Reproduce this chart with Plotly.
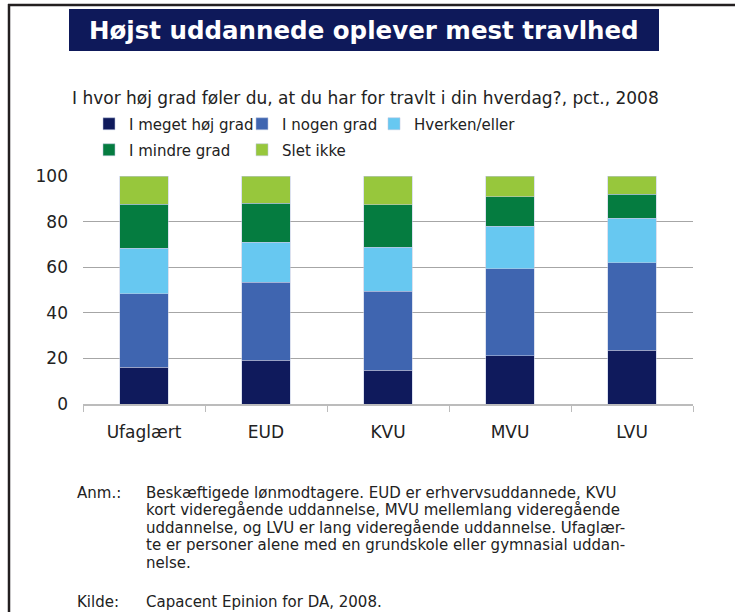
import plotly.graph_objects as go

# --- data (pct., 2008) ---
categories = ['Ufaglært', 'EUD', 'KVU', 'MVU', 'LVU']
series_names = ['I meget høj grad', 'I nogen grad', 'Hverken/eller',
                'I mindre grad', 'Slet ikke']
meget_hoej = [16.2, 19.3, 14.7, 21.1, 23.6]
nogen = [32.1, 34.1, 34.7, 38.2, 38.3]
hverken = [20.1, 17.6, 19.4, 18.7, 19.5]
mindre = [19.3, 17.1, 18.6, 12.9, 10.7]
slet_ikke = [12.3, 11.9, 12.6, 9.1, 7.9]
y_ticks = [0, 20, 40, 60, 80, 100]

colors = ['#0f1a5c', '#3f65b0', '#67c8f1', '#057c40', '#97c73c']
values = [meget_hoej, nogen, hverken, mindre, slet_ikke]

FONT = 'DejaVu Sans'
W, H = 735, 612
L, R, T, B = 83, 693, 176, 404   # plot area in px


def px(x):
    return (x - L) / (R - L)


def py(y):
    return (B - y) / (B - T)


# one legend per entry so the 3 + 2 grid can be placed exactly (px)
legend_ids = ['legend', 'legend2', 'legend3', 'legend4', 'legend5']
legend_pos = [(89, 124), (242, 124), (374, 124), (89, 150), (242, 150)]

fig = go.Figure()
for name, vals, clr, lg in zip(series_names, values, colors, legend_ids):
    fig.add_trace(go.Bar(
        x=categories, y=vals, name=name, showlegend=True,
        marker=dict(color=clr, line=dict(color='rgba(190,200,225,0.9)', width=0.6)),
        legend=lg,
    ))

legends = {}
for lg, (lx, ly) in zip(legend_ids, legend_pos):
    legends[lg] = dict(
        x=px(lx), y=py(ly), xanchor='left', yanchor='middle',
        font=dict(family=FONT, size=15, color='#222'),
        bgcolor='rgba(0,0,0,0)', itemwidth=30,
    )

fig.update_layout(
    barmode='stack', bargap=0.6, showlegend=True,
    width=W, height=H,
    margin=dict(l=L, r=W - R, t=T, b=H - B),
    paper_bgcolor='white', plot_bgcolor='white',
    font=dict(family=FONT, size=16, color='#222'),
    xaxis=dict(
        showline=True, linecolor='#bcbcbc', linewidth=1.5,
        ticks='outside', tickson='boundaries', ticklen=6, tickcolor='#bcbcbc',
        tickfont=dict(family=FONT, size=17, color='#222'),
        showgrid=False, ticklabelstandoff=12,
    ),
    yaxis=dict(
        range=[0, 100], tickvals=y_ticks, showline=False,
        gridcolor='#a6a6a6', gridwidth=1, zeroline=False,
        tickfont=dict(family=FONT, size=17, color='#222'),
        ticklabelstandoff=14,
    ),
    **legends,
)

# title box
fig.add_shape(type='rect', xref='paper', yref='paper',
              x0=px(69), x1=px(659), y0=py(51), y1=py(9),
              fillcolor='#0e195a', line=dict(width=0), layer='above')
fig.add_annotation(text='<b>Højst uddannede oplever mest travlhed</b>',
                   xref='paper', yref='paper', x=px(364), y=py(30),
                   showarrow=False, xanchor='center', yanchor='middle',
                   font=dict(family=FONT, size=24.5, color='white'))

# frame lines (top and left)
fig.add_shape(type='line', xref='paper', yref='paper',
              x0=px(8), x1=px(736), y0=py(5), y1=py(5),
              line=dict(color='#231f20', width=2.5))
fig.add_shape(type='line', xref='paper', yref='paper',
              x0=px(9), x1=px(9), y0=py(4), y1=py(614),
              line=dict(color='#231f20', width=2.5))

# subtitle
fig.add_annotation(text='I hvor høj grad føler du, at du har for travlt i din hverdag?, pct., 2008',
                   xref='paper', yref='paper', x=px(365), y=py(98),
                   showarrow=False, xanchor='center', yanchor='middle',
                   font=dict(family=FONT, size=17, color='#222'))

# notes
note_lines = [
    'Beskæftigede lønmodtagere. EUD er erhvervsuddannede, KVU',
    'kort videregående uddannelse, MVU mellemlang videregående',
    'uddannelse, og LVU er lang videregående uddannelse. Ufaglær-',
    'te er personer alene med en grundskole eller gymnasial uddan-',
    'nelse.',
]
fig.add_annotation(text='Anm.:', xref='paper', yref='paper', x=px(75), y=py(493),
                   showarrow=False, xanchor='left', yanchor='middle',
                   font=dict(family=FONT, size=15, color='#222'))
for i, line in enumerate(note_lines):
    fig.add_annotation(text=line, xref='paper', yref='paper',
                       x=px(144), y=py(493 + i * 17.4),
                       showarrow=False, xanchor='left', yanchor='middle',
                       font=dict(family=FONT, size=15, color='#222'))
fig.add_annotation(text='Kilde:', xref='paper', yref='paper', x=px(75), y=py(602),
                   showarrow=False, xanchor='left', yanchor='middle',
                   font=dict(family=FONT, size=15, color='#222'))
fig.add_annotation(text='Capacent Epinion for DA, 2008.', xref='paper', yref='paper',
                   x=px(144), y=py(602),
                   showarrow=False, xanchor='left', yanchor='middle',
                   font=dict(family=FONT, size=15, color='#222'))

# page body has an 8px default margin; remove it so the figure sits at 0,0
fig.write_html('out.html', config={'displayModeBar': False},
               post_script="document.body.style.margin='0';")
